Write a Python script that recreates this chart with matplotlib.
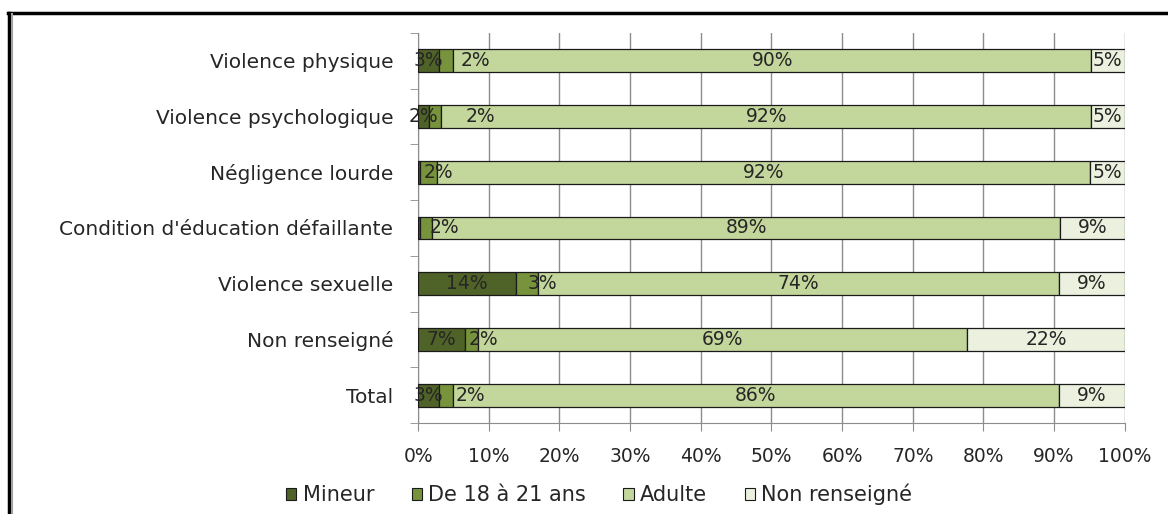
"""Stacked horizontal bars: age of the victim by type of maltreatment."""

import matplotlib.pyplot as plt
import numpy as np
from matplotlib.lines import Line2D

CATEGORIES = [
    "Violence physique",
    "Violence psychologique",
    "Négligence lourde",
    "Condition d'éducation défaillante",
    "Violence sexuelle",
    "Non renseigné",
    "Total",
]
MINEUR = [3.0, 1.6, 0.2, 0.3, 13.9, 6.6, 3.0]
DE_18_21 = [2.0, 1.7, 2.5, 1.6, 3.0, 1.9, 1.9]
ADULTE = [90.2, 91.9, 92.4, 89.0, 73.8, 69.2, 85.8]
NON_RENSEIGNE = [4.8, 4.8, 4.9, 9.1, 9.3, 22.3, 9.3]
SERIES_NAMES = ["Mineur", "De 18 à 21 ans", "Adulte", "Non renseigné"]
SERIES_COLORS = ["#4f6228", "#77933c", "#c3d69b", "#ebf1de"]
XTICKS = np.arange(0, 101, 10)

# labels of the thin "18-21" segment are pushed right, as in the original
LABEL_SHIFT_PX = {1: [29, 45, 10, 19, 15, 12, 24]}

FONT = "DejaVu Sans"
TEXT_COLOR = "#262626"
GRID_COLOR = "#8c8c8c"
EDGE_COLOR = "#1a1a1a"

plt.rcParams["font.family"] = FONT

fig = plt.figure(figsize=(11.68, 5.14), dpi=100)
ax = fig.add_axes([0.358, 0.177, 0.605, 0.759])

series = [MINEUR, DE_18_21, ADULTE, NON_RENSEIGNE]
y = np.arange(len(CATEGORIES))
left = np.zeros(len(CATEGORIES))
for k, (values, name, color) in enumerate(zip(series, SERIES_NAMES, SERIES_COLORS)):
    values = np.array(values)
    ax.barh(y, values, left=left, height=0.41, color=color,
            edgecolor=EDGE_COLOR, linewidth=0.9, label=name, zorder=3)
    shifts = LABEL_SHIFT_PX.get(k, [0] * len(CATEGORIES))
    for yi, l, v, dx in zip(y, left, values, shifts):
        if v >= 0.5:
            ax.annotate(f"{v:.0f}%", (l + v / 2, yi), xytext=(dx, 0),
                        textcoords="offset pixels", ha="center", va="center",
                        fontsize=13.5, color=TEXT_COLOR, zorder=4)
    left += values

ax.set_xlim(0, 100)
ax.set_ylim(len(CATEGORIES) - 0.5, -0.5)
ax.set_xticks(XTICKS)
ax.set_xticklabels([f"{t}%" for t in XTICKS], fontsize=13.5, color=TEXT_COLOR)
ax.set_yticks(y)
ax.set_yticklabels(CATEGORIES, fontsize=14.5, color=TEXT_COLOR)
ax.set_yticks(np.arange(len(CATEGORIES) + 1) - 0.5, minor=True)
ax.tick_params(axis="y", which="major", length=0, pad=18)
ax.tick_params(axis="y", which="minor", length=6, color=GRID_COLOR)
ax.tick_params(axis="x", length=6, color=GRID_COLOR, pad=11)
ax.grid(axis="x", color=GRID_COLOR, linewidth=1, zorder=0)
for side in ["top", "right"]:
    ax.spines[side].set_visible(False)
for side in ["left", "bottom"]:
    ax.spines[side].set_color(GRID_COLOR)

handles = [
    plt.Rectangle((0, 0), 1, 1, facecolor=c, edgecolor=EDGE_COLOR, linewidth=0.8)
    for c in SERIES_COLORS
]
fig.legend(handles, SERIES_NAMES, loc="center", bbox_to_anchor=(0.513, 0.038),
           ncol=4, frameon=False, fontsize=15, handlelength=0.5,
           handleheight=0.5, handletextpad=0.3, columnspacing=1.8,
           labelcolor=TEXT_COLOR)

# outer frame of the original screenshot
fig.add_artist(Line2D([0.007, 1.0], [0.975, 0.975], color="black", lw=2.5,
                      transform=fig.transFigure))
fig.add_artist(Line2D([0.0077, 0.0077], [0.0, 0.975], color="black", lw=2.5,
                      transform=fig.transFigure))
fig.add_artist(Line2D([0.0105, 0.0105], [0.0, 0.972], color="#a0a0a0", lw=1.5,
                      transform=fig.transFigure))

fig.savefig("out.png", dpi=100)
